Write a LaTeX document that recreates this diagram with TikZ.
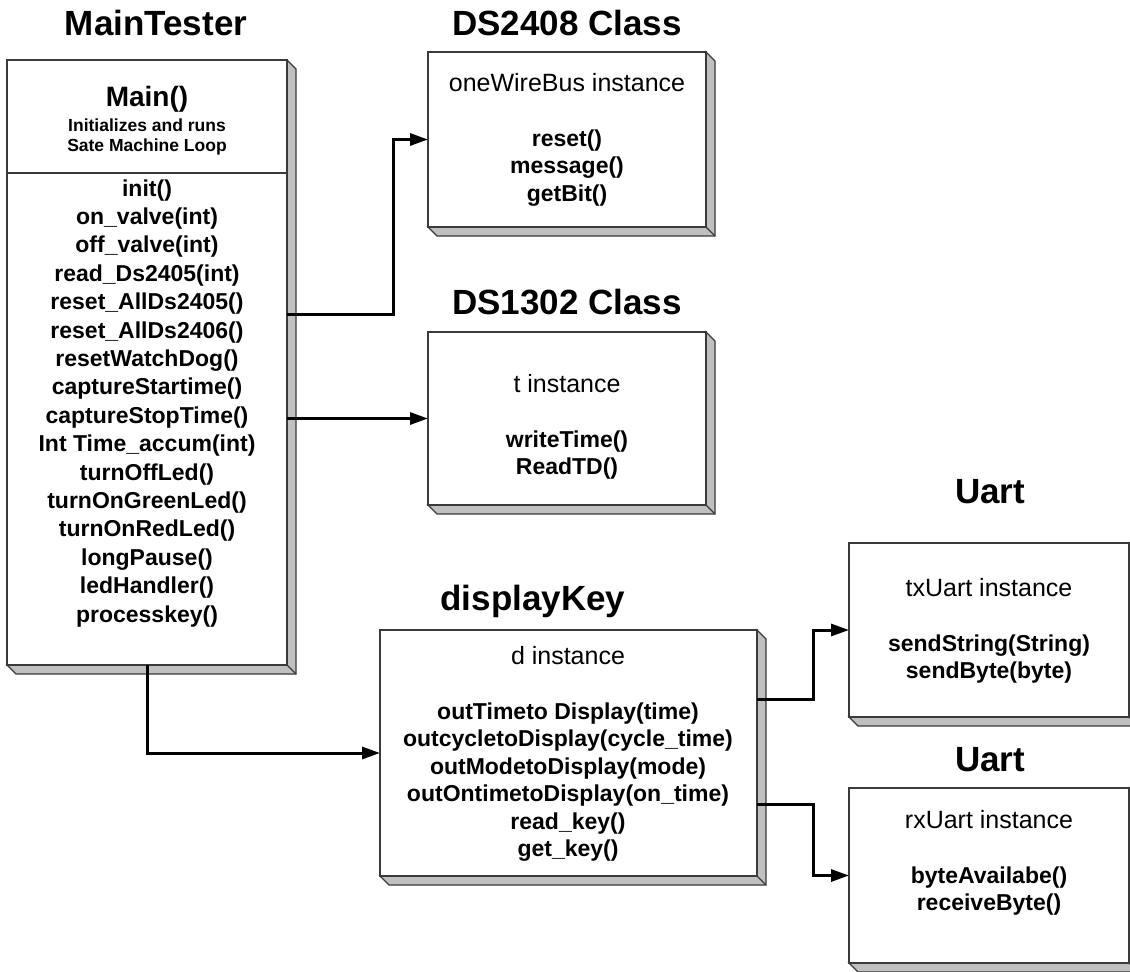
\documentclass[tikz,border=0pt]{standalone}
\usepackage{fontspec}
\setmainfont{Liberation Sans}
\usetikzlibrary{arrows.meta}
\definecolor{edgegray}{HTML}{3A3A3A}
\definecolor{sidegray}{HTML}{C0C0C0}
\tikzset{
  face/.style={draw=edgegray, line width=1.3pt, fill=white, inner sep=0pt, outer sep=0pt},
  side/.style={draw=edgegray, line width=1.1pt, fill=sidegray, line join=miter},
  conn/.style={line width=3pt, -{Triangle[length=18pt,width=12pt]}},
  ttl/.style={font=\bfseries\fontsize{35}{40}\selectfont, anchor=base, inner sep=0pt},
  mth/.style={font=\bfseries\fontsize{23}{27.5}\selectfont, anchor=base, inner sep=0pt},
  inst/.style={font=\fontsize{25}{27.5}\selectfont, anchor=base, inner sep=0pt},
  mainhd/.style={font=\bfseries\fontsize{28}{32}\selectfont, anchor=base, inner sep=0pt},
  small/.style={font=\bfseries\fontsize{17.5}{20}\selectfont, anchor=base, inner sep=0pt}
}
% name, x1, y1, x2, y2  (pixel coords, y downward)
\newcommand\solidbox[5]{%
  \fill[side] (#2,#5) -- (#2+9,#5+9) -- (#4+9,#5+9) -- (#4+9,#3+9) -- (#4,#3) -- (#4,#5) -- cycle;
  \draw[edgegray, line width=1.1pt] (#4,#5) -- (#4+9,#5+9);
  \node[face, minimum width={(#4-#2)*1pt}, minimum height={(#5-#3)*1pt}] (#1) at ({(#2+#4)/2},{(#3+#5)/2}) {};
}
\begin{document}
\begin{tikzpicture}[x=1pt,y=-1pt]
\useasboundingbox (0,0) rectangle (1130,972);
\fill[white] (0,0) rectangle (1130,972);

% boxes
\solidbox{mt}{7}{60}{287}{665}
\solidbox{dsa}{428}{52}{706}{227}
\solidbox{dsb}{428}{332}{706}{505}
\solidbox{dk}{380}{630}{757}{876}
\solidbox{ua}{849}{543}{1129}{717}
\solidbox{ub}{849}{788}{1129}{963}
\draw[edgegray, line width=1.1pt] (mt.west |- 0,173) coordinate (dvl) -- (mt.east |- dvl) coordinate (dvr);

% titles
\node[ttl] (tmt) at (156,35) {MainTester};
\node[ttl] (tdsa) at (567,35) {DS2408 Class};
\node[ttl] (tdsb) at (567,314) {DS1302 Class};
\node[ttl] (tdk) at (533,610) {displayKey};
\node[ttl] (tua) at (990,503) {Uart};
\node[ttl] (tub) at (990,771) {Uart};

% MainTester contents
\node[mainhd] (mhd) at (147,106) {Main()};
\node[small] (mh1) at (147,131) {Initializes and runs};
\node[small] (mh2) at (147,151) {Sate Machine Loop};
\foreach \t [count=\i from 0] in {init(),on\_valve(int),off\_valve(int),read\_Ds2405(int),reset\_AllDs2405(),reset\_AllDs2406(),resetWatchDog(),captureStartime(),captureStopTime(),Int Time\_accum(int),turnOffLed(),turnOnGreenLed(),turnOnRedLed(),longPause(),ledHandler(),processkey()}
  \node[mth] (mm\i) at (147,{196+\i*28.4}) {\t};

% DS2408
\node[inst] (ia) at (567,91) {oneWireBus instance};
\foreach \t [count=\i from 0] in {reset(),message(),getBit()}
  \node[mth] (ma\i) at (567,{146+\i*27.5}) {\t};

% DS1302
\node[inst] (ib) at (567,392) {t instance};
\foreach \t [count=\i from 0] in {writeTime(),ReadTD()}
  \node[mth] (mb\i) at (567,{447+\i*27.5}) {\t};

% displayKey
\node[inst] (ik) at (568,664) {d instance};
\foreach \t [count=\i from 0] in {outTimeto Display(time),outcycletoDisplay(cycle\_time),outModetoDisplay(mode),outOntimetoDisplay(on\_time),read\_key(),get\_key()}
  \node[mth] (mk\i) at (568,{719+\i*27.5}) {\t};

% Uart tx
\node[inst] (iua) at (989,596) {txUart instance};
\foreach \t [count=\i from 0] in {sendString(String),sendByte(byte)}
  \node[mth] (mua\i) at (989,{651+\i*27.5}) {\t};

% Uart rx
\node[inst] (iub) at (989,828) {rxUart instance};
\foreach \t [count=\i from 0] in {byteAvailabe(),receiveByte()}
  \node[mth] (mub\i) at (989,{883+\i*27.5}) {\t};

% connectors
\coordinate (s1) at (287,314);
\draw[conn] (s1) -- ++(106,0) |- (dsa.west);
\draw[conn] (mt.east |- dsb.west) -- (dsb.west);
\draw[conn] (mt.south) |- (dk.west);
\coordinate (s4) at (757,699);
\coordinate (s5) at (757,804);
\draw[conn] (s4) -- ++(56,0) |- (ua.west);
\draw[conn] (s5) -- ++(56,0) |- (ub.west);
\end{tikzpicture}
\end{document}
